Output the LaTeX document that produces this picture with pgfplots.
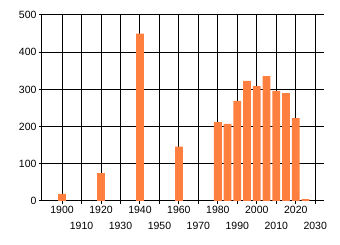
\documentclass[border=0pt]{standalone}
\usepackage{pgfplots}
\pgfplotsset{compat=1.18}
\usepackage{fontspec}
\setmainfont{Liberation Sans}
\definecolor{barc}{RGB}{255,127,63}
\begin{document}
\begin{tikzpicture}[x=1pt,y=1pt]
\path[use as bounding box] (0,0) rectangle (340,245);
\begin{axis}[
  at={(42pt,44pt)}, anchor=south west,
  scale only axis, width=282pt, height=186pt,
  xmin=1889.7, xmax=2034.5, ymin=0, ymax=500,
  axis x line*=bottom, axis y line*=left,
  axis line style={black, line width=1pt},
  xtick={1900,1920,...,2020},
  extra x ticks={1910,1930,...,2030},
  extra x tick style={tick label style={yshift=-16pt}},
  ytick={0,100,...,500},
  grid=major,
  major grid style={black, line width=1pt},
  tick align=outside, major tick length=3pt,
  tick style={black, line width=1pt},
  tick label style={font=\fontsize{10.5}{12}\selectfont},
  xticklabel style={yshift=1pt},
  yticklabel style={xshift=1pt},
  /pgf/number format/assume math mode=true,
  /pgf/number format/1000 sep={},
  ybar, bar width=4,
]
\addplot[fill=barc, draw=none] coordinates {
(1900,19) (1920,75) (1940,450) (1960,146)
(1980,212) (1985,207) (1990,269) (1995,323) (2000,309)
(2005,336) (2010,296) (2015,290) (2020,223) (2025,5)
};
\end{axis}
\end{tikzpicture}
\end{document}
